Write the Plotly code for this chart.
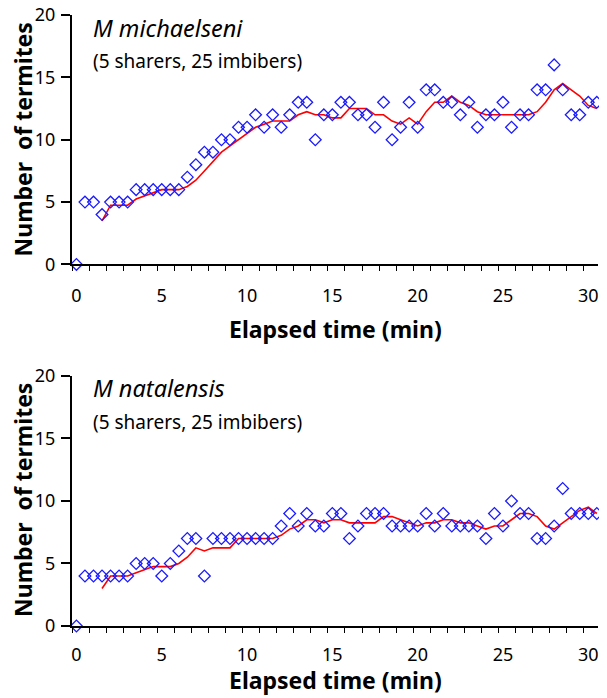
import pandas as pd
import plotly.graph_objects as go

# Number of termites counted every 30 s (0 to 30.5 min)
sample_times = [i * 0.5 for i in range(62)]
michaelseni_counts = [0, 5, 5, 4, 5, 5, 5, 6, 6, 6, 6, 6, 6, 7, 8, 9, 9, 10, 10, 11,
                      11, 12, 11, 12, 11, 12, 13, 13, 10, 12, 12, 13,
                      13, 12, 12, 11, 13, 10, 11, 13, 11, 14, 14, 13, 13, 12, 13, 11,
                      12, 12, 13, 11, 12, 12, 14, 14, 16, 14, 12, 12, 13, 13]
natalensis_counts = [0, 4, 4, 4, 4, 4, 4, 5, 5, 5, 4, 5, 6, 7, 7, 4, 7, 7, 7, 7,
                     7, 7, 7, 7, 8, 9, 8, 9, 8, 8, 9, 9,
                     7, 8, 9, 9, 9, 8, 8, 8, 8, 9, 8, 9, 8, 8, 8, 8, 7, 9,
                     8, 10, 9, 9, 7, 7, 8, 11, 9, 9, 9, 9]

species = ["M michaelseni", "M natalensis"]
subtitle = "(5 sharers, 25 imbibers)"
x_title = "Elapsed time (min)"
y_title = "Number\u00a0 of termites"
x_tick_vals = [0, 5, 10, 15, 20, 25, 30]
y_tick_vals = [0, 5, 10, 15, 20]
MA_PERIOD = 4

FONT = "Noto Sans"
BLUE = "#1a1aff"
RED = "#ff0000"

fig = go.Figure()
series = [michaelseni_counts, natalensis_counts]
for i, counts in enumerate(series):
    xa = "x" if i == 0 else "x2"
    ya = "y" if i == 0 else "y2"
    ma = pd.Series(counts).rolling(MA_PERIOD).mean()
    fig.add_trace(go.Scatter(x=sample_times, y=ma, mode="lines",
                             line=dict(color=RED, width=1.6),
                             xaxis=xa, yaxis=ya, showlegend=False, hoverinfo="skip"))
    fig.add_trace(go.Scatter(x=sample_times, y=counts, mode="markers",
                             marker=dict(symbol="diamond-open", size=9,
                                         color=BLUE, line=dict(width=1.3, color=BLUE)),
                             cliponaxis=False,
                             xaxis=xa, yaxis=ya, showlegend=False))

xcommon = dict(range=[-0.26, 30.57], showline=True, linecolor="black", linewidth=2,
               tickvals=x_tick_vals, ticks="", showgrid=False, zeroline=False,
               automargin=False, ticklabeloverflow="allow",
               tickfont=dict(family=FONT, size=18, color="black"),
               minor=dict(ticks="outside", ticklen=5, tickwidth=1.3, tickcolor="black",
                          tick0=-0.26, dtick=1, showgrid=False))
ycommon = dict(range=[0, 20], showline=True, linecolor="black", linewidth=2,
               tickvals=y_tick_vals, ticks="outside", ticklen=9, tickwidth=1.5,
               tickcolor="black", showgrid=False, zeroline=False, automargin=False,
               ticklabelstandoff=2, ticklabeloverflow="allow",
               tickfont=dict(family=FONT, size=18, color="black"))

# page has an 8px body margin, so the figure is sized to fit the 607x698 window
fig.update_layout(
    width=599, height=690,
    margin=dict(l=64, r=9, t=7, b=72),
    plot_bgcolor="white", paper_bgcolor="white",
    xaxis=dict(anchor="y", domain=[0, 1], ticklabelstandoff=14, **xcommon),
    yaxis=dict(anchor="x", domain=[0.5917, 1], **ycommon),
    xaxis2=dict(anchor="y2", domain=[0, 1], ticklabelstandoff=11, **xcommon),
    yaxis2=dict(anchor="x2", domain=[0, 0.4092], **ycommon),
)

title_pos = [(0.979, 0.9247), (0.3895, 0.3339)]
for name, (ty, sy) in zip(species, title_pos):
    fig.add_annotation(text=f"<i>{name}</i>", xref="paper", yref="paper",
                       x=0.036, y=ty, xanchor="left", yanchor="middle", showarrow=False,
                       font=dict(family=FONT, size=23.5, color="black"))
    fig.add_annotation(text=subtitle, xref="paper", yref="paper",
                       x=0.036, y=sy, xanchor="left", yanchor="middle", showarrow=False,
                       font=dict(family=FONT, size=19, color="black"))

for xy, yy in [(0.486, 0.7962), (-0.088, 0.2062)]:
    fig.add_annotation(text=f"<b>{x_title}</b>", xref="paper", yref="paper",
                       x=0.5, y=xy, xanchor="center", yanchor="middle", showarrow=False,
                       font=dict(family=FONT, size=23, color="black"))
    fig.add_annotation(text=f"<b>{y_title}</b>", xref="paper", yref="paper",
                       x=-0.0932, y=yy, xanchor="center", yanchor="middle", showarrow=False,
                       textangle=-90, font=dict(family=FONT, size=23, color="black"))

fig.write_html("out.html")
